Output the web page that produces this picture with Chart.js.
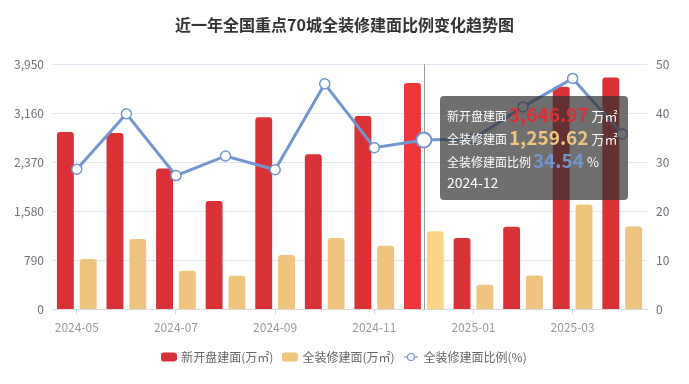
<!DOCTYPE html>
<html>
<head>
<meta charset="utf-8">
<script src="https://cdn.jsdelivr.net/npm/chart.js@4/dist/chart.umd.min.js"></script>
<style>
  html, body { margin: 0; padding: 0; background: #fff; }
  #wrap { position: relative; width: 689px; height: 384px; }
  #tip {
    position: absolute; opacity: 0; pointer-events: none;
    background: rgba(50, 50, 50, 0.7); border-radius: 4px;
    padding: 6px 10px 6px 7px; color: #fff; white-space: nowrap;
    font-family: "Noto Sans CJK SC", "Noto Sans", sans-serif; font-size: 12px;
  }
  #tip .row { height: 23px; line-height: 23px; }
  #tip b { font-size: 19px; font-weight: bold; margin: 0 3px 0 2px; vertical-align: -1px; }
  #tip .u { font-size: 13px; }
  #tip .d { font-size: 14px; }
</style>
</head>
<body>
<div id="wrap">
  <canvas id="chart" width="689" height="384"></canvas>
  <div id="tip"></div>
</div>
<script>
"use strict";

const months = ["2024-05", "2024-06", "2024-07", "2024-08", "2024-09", "2024-10",
  "2024-11", "2024-12", "2025-01", "2025-02", "2025-03", "2025-04"];
const newArea = [2857, 2841, 2271, 1748, 3097, 2500, 3118, 3646.97, 1151, 1332, 3587, 3737]; // 万㎡
const fitArea = [816, 1135, 624, 544, 880, 1151, 1028, 1259.62, 400, 548, 1690, 1338]; // 万㎡
const fitRatio = [28.6, 39.9, 27.3, 31.3, 28.5, 46.0, 33.0, 34.54, 34.8, 41.3, 47.1, 35.8]; // %
const leftMax = 3950, leftStep = 790;
const rightMax = 50, rightStep = 10;
const ACTIVE = 7; // hovered month in the picture

const RED = "#da3136", RED_HI = "#ee363c";
const GOLD = "#eec47e", GOLD_HI = "#fdd587";
const BLUE = "#7195cf";
const FONT = "'Noto Sans CJK SC', 'Noto Sans', sans-serif";

const fmt2 = (v) => v.toLocaleString("en-US", { minimumFractionDigits: 2, maximumFractionDigits: 2 });

// legend swatches: rounded bar, and a line with a hollow dot
function legendIcon(kind, color) {
  const c = document.createElement("canvas");
  const g = c.getContext("2d");
  if (kind === "bar") {
    c.width = 16; c.height = 10;
    g.fillStyle = color;
    g.beginPath();
    g.roundRect(0, 0.5, 16, 9, 3);
    g.fill();
  } else {
    c.width = 14; c.height = 10;
    g.strokeStyle = color;
    g.lineWidth = 1.2;
    g.beginPath(); g.moveTo(0, 5); g.lineTo(14, 5); g.stroke();
    g.fillStyle = "#fff";
    g.beginPath(); g.arc(7, 5, 3.5, 0, Math.PI * 2); g.fill(); g.stroke();
  }
  return c;
}
const icons = [legendIcon("bar", RED), legendIcon("bar", GOLD), legendIcon("line", BLUE)];

function externalTip({ chart, tooltip }) {
  const el = document.getElementById("tip");
  if (tooltip.opacity === 0 || !tooltip.dataPoints || !tooltip.dataPoints.length) {
    el.style.opacity = 0;
    return;
  }
  const i = tooltip.dataPoints[0].dataIndex;
  el.innerHTML =
    `<div class="row">新开盘建面<b style="color:${RED}">${fmt2(newArea[i])}</b><span class="u">万㎡</span></div>` +
    `<div class="row">全装修建面<b style="color:${GOLD}">${fmt2(fitArea[i])}</b><span class="u">万㎡</span></div>` +
    `<div class="row">全装修建面比例<b style="color:${BLUE}">${fmt2(fitRatio[i])}</b><span class="u">%</span></div>` +
    `<div class="row d">${months[i]}</div>`;
  el.style.left = chart.scales.x.getPixelForValue(i) + 16 + "px";
  el.style.top = chart.chartArea.top + 32 + "px";
  el.style.opacity = 1;
}

const crosshair = {
  id: "crosshair",
  beforeDatasetsDraw(chart) {
    const act = chart.getActiveElements();
    if (!act.length) return;
    const x = Math.round(chart.scales.x.getPixelForValue(act[0].index)) + 0.5;
    const { top, bottom } = chart.chartArea;
    const g = chart.ctx;
    g.save();
    g.strokeStyle = "#9a9a9a";
    g.lineWidth = 1;
    g.beginPath(); g.moveTo(x, top); g.lineTo(x, bottom); g.stroke();
    g.restore();
  },
};

const barCommon = { yAxisID: "y", borderRadius: 3, borderSkipped: "start", categoryPercentage: 0.92, barPercentage: 0.74, order: 1 };

const chart = new Chart(document.getElementById("chart"), {
  type: "bar",
  data: {
    labels: months,
    datasets: [
      { ...barCommon, label: "新开盘建面(万㎡)", data: newArea, backgroundColor: RED, hoverBackgroundColor: RED_HI },
      { ...barCommon, label: "全装修建面(万㎡)", data: fitArea, backgroundColor: GOLD, hoverBackgroundColor: GOLD_HI },
      {
        type: "line", label: "全装修建面比例(%)", data: fitRatio, yAxisID: "y1", order: 0,
        borderColor: BLUE, borderWidth: 3, tension: 0,
        pointRadius: 5, pointBackgroundColor: "#fff", pointBorderColor: BLUE, pointBorderWidth: 1.5,
        pointHoverRadius: 7.5, pointHoverBackgroundColor: "#fff", pointHoverBorderColor: BLUE, pointHoverBorderWidth: 2,
      },
    ],
  },
  options: {
    responsive: false,
    animation: false,
    devicePixelRatio: 1,
    interaction: { mode: "index", intersect: false },
    layout: { padding: { left: 0, right: 0, top: 0, bottom: 11 } },
    scales: {
      x: {
        offset: true,
        grid: { offset: false, drawOnChartArea: false, tickLength: 5, color: "#d6d9e0" },
        border: { color: "#d6d9e0" },
        ticks: { autoSkip: true, maxTicksLimit: 6, maxRotation: 0, padding: 6, color: "#9a9a9a", font: { family: FONT, size: 12 } },
      },
      y: {
        position: "left", min: 0, max: leftMax,
        afterFit: (s) => { s.width = 52; },
        grid: { color: "#e0e6f1", drawTicks: false },
        border: { display: false },
        ticks: { stepSize: leftStep, padding: 8, color: "#6e7079", font: { family: FONT, size: 12 } },
      },
      y1: {
        position: "right", min: 0, max: rightMax,
        afterFit: (s) => { s.width = 42; },
        grid: { drawOnChartArea: false, drawTicks: false },
        border: { display: false },
        ticks: { stepSize: rightStep, padding: 9, color: "#6e7079", font: { family: FONT, size: 12 } },
      },
    },
    plugins: {
      title: {
        display: true,
        text: "近一年全国重点70城全装修建面比例变化趋势图",
        color: "#333",
        font: { family: FONT, size: 16, weight: "bold" },
        padding: { top: 15, bottom: 30 },
      },
      legend: {
        position: "bottom",
        labels: {
          usePointStyle: true,
          pointStyleWidth: 13,
          padding: 10,
          color: "#666",
          font: { family: FONT, size: 12 },
          sort: (a, b) => a.datasetIndex - b.datasetIndex,
          generateLabels: (c) =>
            Chart.defaults.plugins.legend.labels.generateLabels(c).map((it) => ({ ...it, pointStyle: icons[it.datasetIndex] })),
        },
      },
      tooltip: { enabled: false, external: externalTip },
    },
  },
  plugins: [crosshair],
});

const act = [0, 1, 2].map((d) => ({ datasetIndex: d, index: ACTIVE }));
const pt = chart.getDatasetMeta(2).data[ACTIVE];
chart.setActiveElements(act);
chart.tooltip.setActiveElements(act, { x: pt.x, y: pt.y });
chart.update();
</script>
</body>
</html>
